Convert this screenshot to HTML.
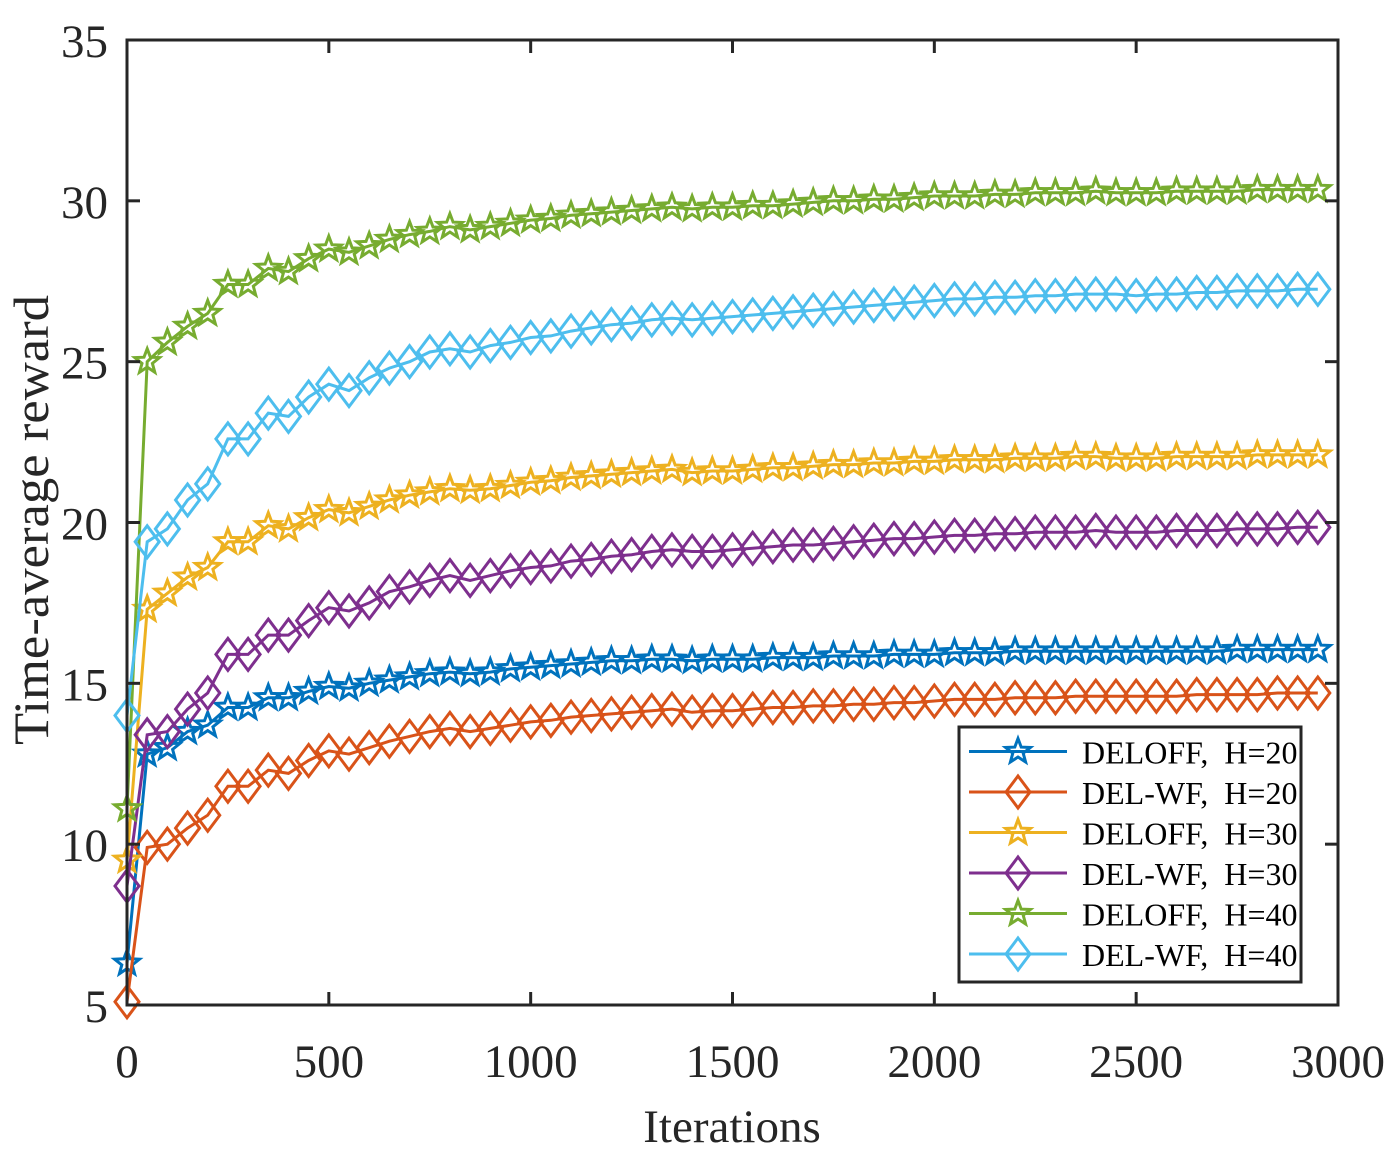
<!DOCTYPE html>
<html><head><meta charset="utf-8">
<style>
html,body{margin:0;padding:0;background:#fff;}
svg{display:block;font-family:"Liberation Serif",serif;}
.pre{white-space:pre;}
</style></head>
<body>
<svg id="chart" width="1394" height="1158" viewBox="0 0 1394 1158" xmlns="http://www.w3.org/2000/svg"></svg>
<script>
const iterations = Array.from({length:60},(_,i)=>i*50);
const xTicks = [0,500,1000,1500,2000,2500,3000];
const yTicks = [5,10,15,20,25,30,35];
const seriesNames = ["DELOFF,  H=20","DEL-WF,  H=20","DELOFF,  H=30","DEL-WF,  H=30","DELOFF,  H=40","DEL-WF,  H=40"];
const deloff20 = [6.3,12.8,13.0,13.5,13.7,14.25,14.25,14.55,14.55,14.75,14.9,14.85,15.0,15.1,15.2,15.3,15.35,15.3,15.35,15.45,
15.5,15.55,15.6,15.65,15.7,15.7,15.75,15.75,15.7,15.75,15.75,15.75,15.8,15.8,15.8,15.85,15.85,15.85,15.9,15.9,
15.9,15.95,15.95,15.95,16.0,16.0,16.0,16.0,16.0,16.0,16.0,16.0,16.0,16.0,16.0,16.05,16.05,16.05,16.05,16.05];
const delwf20 = [5.1,9.9,10.0,10.5,10.9,11.8,11.8,12.3,12.2,12.6,12.9,12.8,13.0,13.2,13.35,13.5,13.6,13.5,13.6,13.7,
13.8,13.85,13.95,14.0,14.05,14.1,14.15,14.2,14.1,14.15,14.15,14.2,14.25,14.25,14.3,14.3,14.35,14.35,14.4,14.4,
14.45,14.5,14.5,14.5,14.55,14.55,14.55,14.6,14.6,14.6,14.6,14.6,14.6,14.65,14.65,14.65,14.65,14.7,14.7,14.7];
const deloff30 = [9.5,17.3,17.8,18.3,18.6,19.4,19.4,19.9,19.8,20.15,20.4,20.3,20.5,20.7,20.85,20.95,21.05,21.0,21.05,21.15,
21.25,21.3,21.4,21.45,21.5,21.55,21.6,21.65,21.55,21.6,21.6,21.65,21.7,21.7,21.75,21.8,21.8,21.85,21.85,21.9,
21.9,21.95,21.95,21.95,22.0,22.0,22.0,22.05,22.05,22.0,22.0,22.0,22.05,22.05,22.05,22.05,22.1,22.1,22.1,22.1];
const delwf30 = [8.7,13.4,13.5,14.2,14.7,15.9,15.9,16.5,16.5,16.95,17.35,17.25,17.5,17.85,18.0,18.2,18.35,18.2,18.35,18.5,
18.6,18.65,18.8,18.85,18.95,19.0,19.1,19.15,19.1,19.1,19.15,19.2,19.25,19.3,19.3,19.35,19.4,19.45,19.5,19.5,
19.55,19.6,19.6,19.65,19.65,19.7,19.7,19.7,19.75,19.7,19.7,19.7,19.75,19.75,19.75,19.8,19.8,19.8,19.85,19.85];
const deloff40 = [11.1,25.0,25.6,26.1,26.5,27.4,27.4,27.9,27.8,28.2,28.5,28.4,28.6,28.8,28.95,29.05,29.2,29.1,29.2,29.3,
29.4,29.45,29.55,29.6,29.65,29.7,29.75,29.8,29.75,29.8,29.8,29.85,29.85,29.9,29.95,30.0,30.0,30.05,30.05,30.1,
30.15,30.15,30.15,30.2,30.2,30.25,30.25,30.25,30.3,30.25,30.25,30.25,30.3,30.3,30.3,30.3,30.35,30.35,30.35,30.35];
const delwf40 = [14.0,19.4,19.8,20.7,21.2,22.6,22.6,23.4,23.3,23.9,24.3,24.1,24.5,24.8,25.0,25.3,25.4,25.3,25.5,25.6,
25.75,25.8,25.95,26.05,26.15,26.2,26.3,26.35,26.3,26.35,26.4,26.45,26.5,26.55,26.6,26.65,26.7,26.75,26.8,26.85,
26.9,26.95,26.95,27.0,27.0,27.05,27.05,27.1,27.1,27.1,27.05,27.1,27.1,27.15,27.15,27.2,27.2,27.2,27.25,27.25];

const svg=document.getElementById('chart');
const NS='http://www.w3.org/2000/svg';
const L=127,R=1338,T=40,B=1005;
const xs=v=>L+(v-0)/(3000-0)*(R-L);
const ys=v=>B-(v-5)/(35-5)*(B-T);
function mk(tag,attrs,parent){const e=document.createElementNS(NS,tag);for(const k in attrs)e.setAttribute(k,attrs[k]);(parent||svg).appendChild(e);return e;}
function starPath(cx,cy,r){let d='';const ri=r*0.42;for(let i=0;i<10;i++){const rr=i%2?ri:r;const a=-Math.PI/2+i*Math.PI/5;d+=(i?'L':'M')+(cx+rr*Math.cos(a)).toFixed(1)+','+(cy+rr*Math.sin(a)).toFixed(1);}return d+'Z';}
function diamondPath(cx,cy){return `M${cx},${cy-16}L${cx+12},${cy}L${cx},${cy+16}L${cx-12},${cy}Z`;}
const seriesData=[deloff20,delwf20,deloff30,delwf30,deloff40,delwf40];
const colors=['#0072bd','#d95319','#edb120','#7e2f8e','#77ac30','#4dbeee'];
const markers=['star','diamond','star','diamond','star','diamond'];
const ids=['deloff-h20','delwf-h20','deloff-h30','delwf-h30','deloff-h40','delwf-h40'];

seriesData.forEach((data,si)=>{
  const g=mk('g',{});
  
  
  const pts=data.map((v,i)=>xs(iterations[i]).toFixed(1)+','+ys(v).toFixed(1)).join(' ');
  const pl=mk('polyline',{points:pts,fill:'none',stroke:colors[si],'stroke-width':3},g);
  
  
  data.forEach((v,i)=>{
    const cx=xs(iterations[i]),cy=ys(v);
    const d=markers[si]==='star'?starPath(cx,cy,13):diamondPath(cx,cy);
    const m=mk('path',{d:d,fill:'none',stroke:colors[si],'stroke-width':3},g);
    
    
  });
});

const box=mk('rect',{x:L,y:T,width:R-L,height:B-T,fill:'none',stroke:'#262626','stroke-width':3});


xTicks.forEach(t=>{
  const x=xs(t);
  mk('line',{x1:x,y1:B,x2:x,y2:B-13,stroke:'#262626','stroke-width':3});
  mk('line',{x1:x,y1:T,x2:x,y2:T+13,stroke:'#262626','stroke-width':3});
  const tx=mk('text',{x:x,y:B+72,'text-anchor':'middle','font-size':47,fill:'#262626'});
  tx.textContent=t;
  
  
});
yTicks.forEach(t=>{
  const y=ys(t);
  mk('line',{x1:L,y1:y,x2:L+13,y2:y,stroke:'#262626','stroke-width':3});
  mk('line',{x1:R,y1:y,x2:R-13,y2:y,stroke:'#262626','stroke-width':3});
  const tx=mk('text',{x:108,y:y+17,'text-anchor':'end','font-size':47,fill:'#262626'});
  tx.textContent=t;
  
  
});
const xt=mk('text',{x:732,y:1142,'text-anchor':'middle','font-size':47,fill:'#262626'});
xt.textContent='Iterations';


const yt=mk('text',{x:0,y:0,'text-anchor':'middle','font-size':50,fill:'#262626',textLength:450,lengthAdjust:'spacingAndGlyphs',transform:'translate(48,520) rotate(-90)'});
yt.textContent='Time-average reward';



const lg=mk('g',{});


mk('rect',{x:959,y:727,width:342,height:255,fill:'#fff',stroke:'#262626','stroke-width':3},lg);
seriesNames.forEach((n,i)=>{
  const y=751.5+i*40.5;
  const e=mk('g',{},lg);
  
  
  mk('line',{x1:969,y1:y,x2:1067,y2:y,stroke:colors[i],'stroke-width':3},e);
  const d=markers[i]==='star'?starPath(1018,y,13):diamondPath(1018,y);
  mk('path',{d:d,fill:'none',stroke:colors[i],'stroke-width':3},e);
  const t=mk('text',{x:1082,y:y+12,'font-size':32,fill:'#000',class:'pre'},e);
  t.textContent=n;
});
</script>
</body></html>
